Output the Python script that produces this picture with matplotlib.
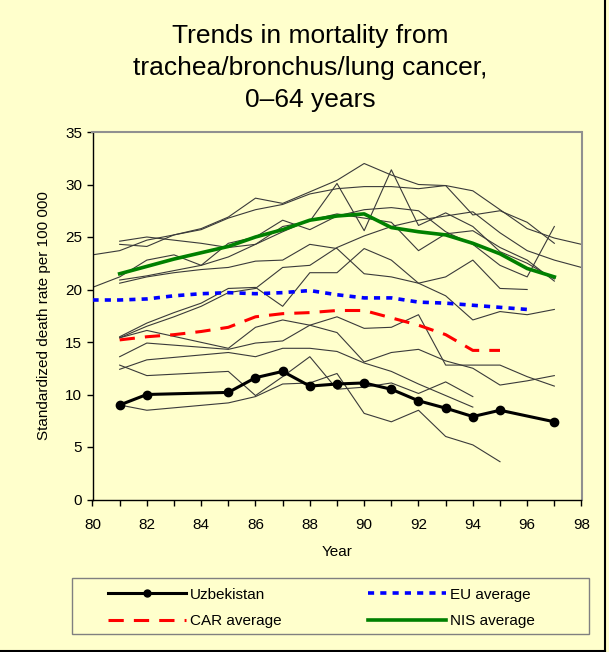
import matplotlib
matplotlib.use("Agg")
import matplotlib.pyplot as plt
from matplotlib.lines import Line2D
from matplotlib.patches import Rectangle

plt.rcParams['font.family'] = ['Liberation Sans', 'DejaVu Sans']

# Standardized death rate per 100 000, trachea/bronchus/lung cancer, 0-64 years
uzb_years = [81, 82, 85, 86, 87, 88, 89, 90, 91, 92, 93, 94, 95, 97]
uzb_rate = [9.0, 10.0, 10.2, 11.6, 12.2, 10.8, 11.0, 11.1, 10.5, 9.4, 8.7, 7.9, 8.5, 7.4]

eu_years = list(range(80, 97))
eu_rate = [19.0, 19.0, 19.1, 19.4, 19.6, 19.7, 19.6, 19.7, 19.9, 19.5, 19.2,
           19.2, 18.8, 18.7, 18.5, 18.3, 18.1]

car_years = list(range(81, 96))
car_rate = [15.2, 15.5, 15.7, 16.0, 16.4, 17.4, 17.7, 17.8, 18.0, 18.0, 17.3,
            16.6, 15.7, 14.2, 14.2]

nis_years = list(range(81, 98))
nis_rate = [21.5, 22.2, 22.9, 23.5, 24.1, 25.0, 25.7, 26.6, 27.0, 27.2, 25.9,
            25.5, 25.2, 24.4, 23.4, 22.0, 21.2]

# other countries (thin lines)
c01_years = list(range(80, 99))
c01_rate = [23.3, 23.7, 24.7, 25.2, 25.7, 26.8, 27.6, 28.1, 29.1, 29.6, 29.8,
            29.8, 29.6, 29.9, 29.4, 27.6, 25.8, 24.9, 24.3]
c02_years = list(range(81, 98))
c02_rate = [24.3, 24.1, 25.2, 25.8, 26.9, 28.7, 28.2, 29.3, 30.4, 32.0, 30.9,
            30.0, 29.9, 27.1, 27.5, 26.4, 24.4]
c03_years = list(range(81, 98))
c03_rate = [24.6, 25.0, 24.7, 24.4, 24.0, 24.3, 26.0, 26.5, 30.1, 25.6, 31.4,
            26.1, 27.3, 26.0, 23.6, 22.5, 21.0]
c04_years = list(range(80, 98))
c04_rate = [20.2, 21.2, 22.8, 23.3, 22.3, 24.4, 25.0, 26.6, 25.7, 27.0, 27.6,
            27.8, 27.5, 25.5, 24.3, 22.3, 21.2, 26.0]
c05_years = list(range(81, 98))
c05_rate = [20.9, 21.3, 21.8, 22.3, 23.1, 24.3, 25.5, 26.6, 27.2, 26.8, 26.4,
            23.7, 25.3, 25.6, 24.0, 22.8, 20.8]
c06_years = list(range(81, 97))
c06_rate = [20.6, 21.2, 21.6, 21.9, 22.1, 22.7, 22.8, 24.3, 23.9, 21.5, 21.2,
            20.6, 21.2, 22.8, 20.1, 20.0]
c07_years = list(range(81, 98))
c07_rate = [15.5, 16.8, 17.8, 18.7, 20.1, 20.2, 18.4, 21.6, 21.6, 23.9, 22.8,
            20.6, 19.4, 17.1, 17.9, 17.6, 18.1]
c08_years = list(range(81, 99))
c08_rate = [15.4, 16.5, 17.4, 18.4, 19.7, 20.1, 22.1, 22.3, 24.0, 25.1, 26.0,
            26.6, 27.0, 27.4, 25.4, 23.7, 22.8, 22.1]
c09_years = [81, 82, 85, 86, 87, 88, 89, 90, 91, 92, 93, 94, 95, 96, 97]
c09_rate = [15.4, 16.1, 14.4, 16.4, 17.1, 16.6, 15.9, 13.1, 14.0, 14.3, 13.2,
            12.5, 10.9, 11.3, 11.8]
c10_years = [81, 82, 85, 86, 87, 88, 89, 90, 91, 92, 93, 94, 95, 96, 97]
c10_rate = [13.6, 14.9, 14.3, 14.9, 15.1, 16.6, 17.4, 16.3, 16.4, 17.6, 12.8,
            12.8, 12.8, 11.7, 10.8]
c11_years = [81, 82, 85, 86, 87, 88, 89, 90, 91, 92, 93, 94]
c11_rate = [12.4, 13.3, 14.0, 13.6, 14.4, 14.4, 14.1, 13.0, 12.2, 11.0, 9.9, 8.8]
c12_years = [81, 82, 85, 86, 87, 88, 89, 90, 91, 92, 93, 94]
c12_rate = [12.8, 11.8, 12.2, 9.9, 11.7, 13.6, 10.5, 10.7, 11.1, 10.1, 11.2, 9.8]
c13_years = [81, 82, 85, 86, 87, 88, 89, 90, 91, 92, 93, 94, 95]
c13_rate = [9.0, 8.5, 9.2, 9.8, 11.0, 11.1, 12.0, 8.2, 7.4, 8.5, 6.0, 5.2, 3.6]

others = [(c01_years, c01_rate), (c02_years, c02_rate), (c03_years, c03_rate),
          (c04_years, c04_rate), (c05_years, c05_rate), (c06_years, c06_rate),
          (c07_years, c07_rate), (c08_years, c08_rate), (c09_years, c09_rate),
          (c10_years, c10_rate), (c11_years, c11_rate), (c12_years, c12_rate),
          (c13_years, c13_rate)]

bg = '#FFFFCC'
W, H = 609, 652
fig = plt.figure(figsize=(W / 100, H / 100), dpi=100, facecolor=bg)
ax = fig.add_axes([92.5 / W, 1 - 499.5 / H, 489 / W, 367.5 / H])
ax.set_facecolor(bg)

for yrs, vals in others:
    ax.plot(yrs, vals, color='#3a3a3a', lw=0.8, zorder=2)

ax.plot(eu_years, eu_rate, color='#0000FF', lw=2.6, dashes=(1.7, 1.7),
        label='EU average', zorder=3)
ax.plot(car_years, car_rate, color='#FF0000', lw=2.2, dashes=(5, 3.3),
        label='CAR average', zorder=3)
ax.plot(nis_years, nis_rate, color='#008000', lw=2.6, label='NIS average', zorder=4)
ax.plot(uzb_years, uzb_rate, color='black', lw=2.2, marker='o', ms=6,
        label='Uzbekistan', zorder=5)

ax.set_xlim(80, 98)
ax.set_ylim(0, 35)
ax.set_xticks(range(80, 99))
ax.set_xticklabels([str(y) if y % 2 == 0 else '' for y in range(80, 99)])
ax.set_yticks(range(0, 36, 5))
ax.tick_params(direction='out', length=4, width=1, labelsize=11, colors='black')
ax.tick_params(axis='x', pad=9)

for side in ['left', 'bottom']:
    ax.spines[side].set_color('black')
    ax.spines[side].set_linewidth(1)
for side in ['top', 'right']:
    ax.spines[side].set_color('#909090')
    ax.spines[side].set_linewidth(1.5)

ax.set_xlabel('Year', fontsize=11, labelpad=10)
ax.set_ylabel('Standardized death rate per 100 000', fontsize=11, labelpad=10)

fig.text(310 / W, 1 - 24 / H,
         'Trends in mortality from\ntrachea/bronchus/lung cancer,\n0\u201364 years',
         ha='center', va='top', fontsize=19, linespacing=1.42)

# legend: box drawn separately, entries spread between the two columns
fig.add_artist(Rectangle((72 / W, 1 - 634 / H), 517 / W, 56 / H, transform=fig.transFigure,
                         facecolor='none', edgecolor='#808080', lw=1))
h = {l.get_label(): l for l in ax.get_lines() if not l.get_label().startswith('_')}
handles = [h['Uzbekistan'], h['CAR average'], h['EU average'], h['NIS average']]
leg = fig.legend(handles, [x.get_label() for x in handles], ncol=2,
                 loc='center', mode='expand',
                 bbox_to_anchor=(108 / W, 1 - 630 / H, 427 / W, 44 / H),
                 bbox_transform=fig.transFigure, fontsize=11, handlelength=5.1,
                 handletextpad=0.25, borderpad=0, borderaxespad=0, labelspacing=0.85,
                 frameon=False)
for lh in leg.legend_handles:
    if lh.get_label() == 'Uzbekistan':
        lh.set_markersize(5)

# chart-area border (right and bottom)
fig.add_artist(Line2D([605 / W, 605 / W], [1 - 651 / H, 1], color='black',
                      lw=1.5, transform=fig.transFigure))
fig.add_artist(Line2D([0, 605 / W], [1 - 651 / H, 1 - 651 / H], color='black',
                      lw=1.5, transform=fig.transFigure))

fig.savefig('out.png', dpi=100, facecolor=bg)
